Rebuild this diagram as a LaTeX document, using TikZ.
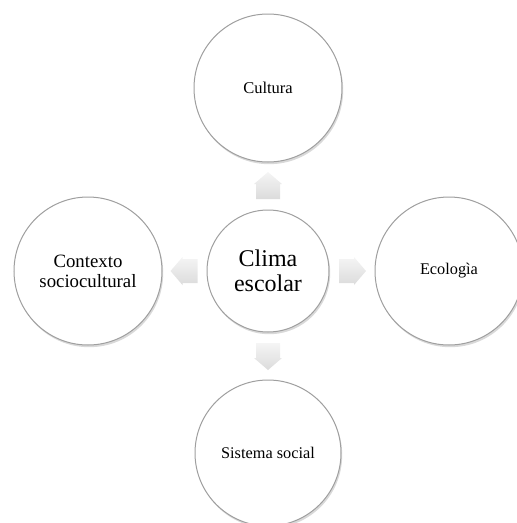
\documentclass[tikz,border=0pt]{standalone}
\usepackage{fontspec}
\setmainfont{Liberation Serif}
\usetikzlibrary{shadows,calc}
\tikzset{
  bubble/.style={circle, draw=gray!75, line width=1pt, fill=white, inner sep=0pt,
    align=center, drop shadow={opacity=0.3, shadow xshift=1.2pt, shadow yshift=-2.2pt}},
  blockarrow/.style={top color=gray!8, bottom color=gray!28, draw=none},
}
\newcommand{\mkarrow}[2]{%
  \begin{scope}[shift={(#1)}, rotate=#2]
    \shade[blockarrow] (-13,-12) -- (2,-12) -- (2,-14) -- (14,0) -- (2,14) -- (2,12) -- (-13,12) -- cycle;
  \end{scope}}
\begin{document}
\begin{tikzpicture}[x=1pt,y=1pt]
\useasboundingbox (0,0) rectangle (517,-523);
\node[bubble, minimum size=148pt, font=\fontsize{16.5}{19}\selectfont] (t) at (268,-88) {Cultura};
\node[bubble, minimum size=148pt, font=\fontsize{16.3}{19}\selectfont] (r) at (449,-271) {Ecologìa};
\node[bubble, minimum size=146pt, font=\fontsize{16.3}{19}\selectfont] (b) at (268,-453) {Sistema social};
\node[bubble, minimum size=148pt, font=\fontsize{18.8}{20}\selectfont] (l) at (88,-271) {Contexto\\sociocultural};
\node[bubble, minimum size=122pt, font=\fontsize{24}{25}\selectfont] (c) at (268,-271) {Clima\\escolar};
\coordinate (at) at ($(c.north)!0.5!(t.south)$);
\coordinate (ab) at ($(c.south)!0.5!(b.north)$);
\coordinate (al) at ($(c.west)!0.5!(l.east)$);
\coordinate (ar) at ($(c.east)!0.5!(r.west)$);
\mkarrow{at}{90}
\mkarrow{ab}{-90}
\mkarrow{al}{180}
\mkarrow{ar}{0}
\end{tikzpicture}
\end{document}
